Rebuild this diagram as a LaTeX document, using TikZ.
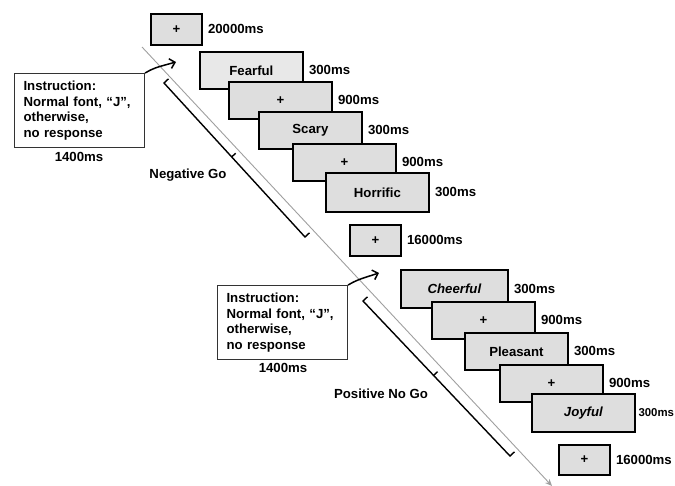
\documentclass[tikz,border=0pt]{standalone}
\usepackage{fontspec}
\setmainfont{Liberation Sans}
\usetikzlibrary{arrows.meta,calc}
\definecolor{boxgray}{RGB}{222,222,222}
\definecolor{boxlight}{RGB}{232,232,232}
\begin{document}
\begin{tikzpicture}[x=1pt,y=-1pt,
  every node/.style={font=\fontsize{13.2}{15.5}\selectfont\bfseries, inner sep=0pt},
  stim/.style={draw=black, line width=1.8pt, fill=boxgray, minimum width=103pt, minimum height=37pt, anchor=north west},
  fixbox/.style={stim, minimum width=51pt, minimum height=31pt},
  dur/.style={anchor=west},
  instr/.style={draw=black!80, line width=1.1pt, anchor=north west, minimum width=130pt, minimum height=74pt, align=left, text width=112pt, inner xsep=9pt},
  instrarrow/.style={line width=1.5pt, -{Straight Barb[length=5pt,width=10pt]}},
  timeline/.style={draw=gray!75, line width=0.9pt, -{Stealth[length=7pt,width=6pt]}},
  bracketline/.style={line width=1.4pt}
]
\useasboundingbox (0,0) rectangle (675,485);

% timeline
\coordinate (d0) at (142,47);
\coordinate (d1) at (552,486);
\draw[timeline] (d0) -- (d1);

% top fixation
\node[fixbox] (f0) at (150,13) {+};
\node[dur] (f0t) at ($(f0.east)+(5,0)$) {20000ms};

% instruction 1
\node[instr] (i1) at (14,73) {Instruction:\\Normal font, “J”,\\otherwise,\\no response};
\node (i1t) at (79,157) {1400ms};
\coordinate (a1) at (176,62);
\draw[instrarrow] (i1.north east) .. controls (154,68) .. (a1);

% negative block
\node[stim, fill=boxlight] (n1) at (199,51) {Fearful};
\node[dur] (n1t) at ($(n1.east)+(5,0)$) {300ms};
\node[stim] (n2) at (228,81) {+};
\node[dur] (n2t) at ($(n2.east)+(5,0)$) {900ms};
\node[stim] (n3) at (258,111) {Scary};
\node[dur] (n3t) at ($(n3.east)+(5,0)$) {300ms};
\node[stim] (n4) at (292,143) {+};
\node[dur] (n4t) at ($(n4.east)+(5,0)$) {900ms};
\node[stim, minimum height=39pt] (n5) at (325,172) {Horrific};
\node[dur] (n5t) at ($(n5.east)+(5,0)$) {300ms};

% bracket 1
\coordinate (b1s) at (164,83);
\coordinate (b1e) at (305,237);
\draw[bracketline] ($(b1s)+(4.5,-4.2)$) -- (b1s) -- (b1e) -- ($(b1e)+(4.5,-4.2)$);
\draw[bracketline] ($(b1s)!0.48!(b1e)$) -- ++(4,-3.7);
\node (neg) at (188,175) {Negative Go};

% middle fixation
\node[fixbox] (f1) at (349,224) {+};
\node[dur] (f1t) at ($(f1.east)+(5,0)$) {16000ms};

% instruction 2
\node[instr] (i2) at (217,285) {Instruction:\\Normal font, “J”,\\otherwise,\\no response};
\node (i2t) at (283,368) {1400ms};
\coordinate (a2) at (379,273);
\draw[instrarrow] (i2.north east) .. controls (357,280) .. (a2);

% positive block
\node[stim, minimum width=107pt, minimum height=38pt] (p1) at (400,269) {\itshape Cheerful};
\node[dur] (p1t) at ($(p1.east)+(5,0)$) {300ms};
\node[stim] (p2) at (431,301) {+};
\node[dur] (p2t) at ($(p2.east)+(5,0)$) {900ms};
\node[stim] (p3) at (464,332) {Pleasant};
\node[dur] (p3t) at ($(p3.east)+(5,0)$) {300ms};
\node[stim] (p4) at (499,364) {+};
\node[dur] (p4t) at ($(p4.east)+(5,0)$) {900ms};
\node[stim, minimum width=103pt, minimum height=38pt] (p5) at (531,393) {\itshape Joyful};
\node[dur, font=\fontsize{11.4}{13}\selectfont\bfseries] (p5t) at ($(p5.east)+(2.5,0)$) {300ms};

% bracket 2
\coordinate (b2s) at (363,301);
\coordinate (b2e) at (510,456);
\draw[bracketline] ($(b2s)+(4.5,-4.2)$) -- (b2s) -- (b2e) -- ($(b2e)+(4.5,-4.2)$);
\draw[bracketline] ($(b2s)!0.48!(b2e)$) -- ++(4,-3.7);
\node (pos) at (381,394) {Positive No Go};

% final fixation
\node[fixbox, minimum height=30pt] (f2) at (558,444) {+};
\node[dur] (f2t) at ($(f2.east)+(5,0)$) {16000ms};
\end{tikzpicture}
\end{document}
